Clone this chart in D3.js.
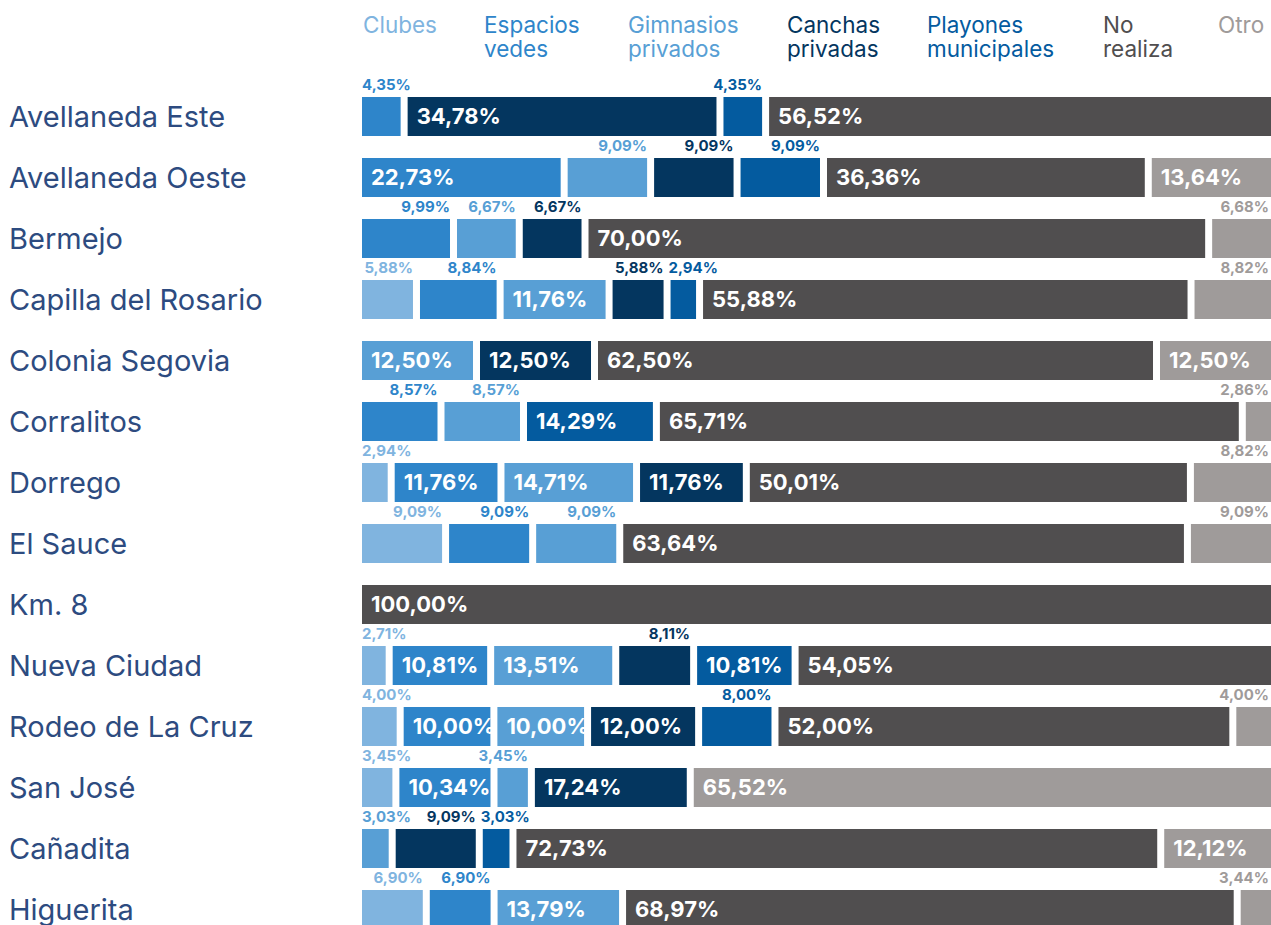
<!DOCTYPE html>
<html>
<head>
<meta charset="utf-8">
<script src="https://cdn.jsdelivr.net/npm/d3@7"></script>
<style>
  body { margin: 0; background: #fff; }
  svg { display: block; font-family: Inter, "Noto Sans", sans-serif; }
</style>
</head>
<body>
<svg id="chart" width="1271" height="925"></svg>
<script>
// ---------- DATA ----------
const places = ["Avellaneda Este", "Avellaneda Oeste", "Bermejo", "Capilla del Rosario",
  "Colonia Segovia", "Corralitos", "Dorrego", "El Sauce", "Km. 8", "Nueva Ciudad",
  "Rodeo de La Cruz", "San José", "Cañadita", "Higuerita"];

const seriesKeys = ["Clubes", "Espacios vedes", "Gimnasios privados", "Canchas privadas",
  "Playones municipales", "No realiza", "Otro"];
const legendLines = [["Clubes"], ["Espacios", "vedes"], ["Gimnasios", "privados"],
  ["Canchas", "privadas"], ["Playones", "municipales"], ["No", "realiza"], ["Otro"]];

const clubes     = [0, 0, 0, 5.88, 0, 0, 2.94, 9.09, 0, 2.71, 4.00, 3.45, 0, 6.90];
const espacios   = [4.35, 22.73, 9.99, 8.84, 0, 8.57, 11.76, 9.09, 0, 10.81, 10.00, 10.34, 0, 6.90];
const gimnasios  = [0, 9.09, 6.67, 11.76, 12.50, 8.57, 14.71, 9.09, 0, 13.51, 10.00, 3.45, 3.03, 13.79];
const canchas    = [34.78, 9.09, 6.67, 5.88, 12.50, 0, 11.76, 0, 0, 8.11, 12.00, 17.24, 9.09, 0];
const playones   = [4.35, 9.09, 0, 2.94, 0, 14.29, 0, 0, 0, 10.81, 8.00, 0, 3.03, 0];
const noRealiza  = [56.52, 36.36, 70.00, 55.88, 62.50, 65.71, 50.01, 63.64, 100, 54.05, 52.00, 0, 72.73, 68.97];
const otro       = [0, 13.64, 6.68, 8.82, 12.50, 2.86, 8.82, 9.09, 0, 0, 4.00, 65.52, 12.12, 3.44];

const seriesValues = [clubes, espacios, gimnasios, canchas, playones, noRealiza, otro];
const colors = ["#80b4df", "#2e85ca", "#589fd5", "#04365f", "#045b9f", "#504e4f", "#9f9b9a"];

// ---------- LAYOUT ----------
const svg = d3.select("#chart");
const left = 362, right = 1271, gap = 7;
const legendX = [363, 484, 628, 787, 927, 1103, 1218];

const y = d3.scaleBand().domain(places).range([97, 929]).paddingInner(22 / 61).paddingOuter(0);
const bw = y.bandwidth();

const table = places.map((p, i) => {
  const o = { place: p };
  seriesKeys.forEach((k, j) => o[k] = seriesValues[j][i]);
  return o;
});
const stacked = d3.stack().keys(seriesKeys)(table);
const fmt = v => d3.format(".2f")(v).replace(".", ",") + "%";

// Legend
seriesKeys.forEach((k, j) => {
  const t = svg.append("text")
    .attr("x", legendX[j]).attr("y", 33)
    .attr("fill", colors[j])
    .style("font-size", "22.5px").style("font-weight", 400);
  legendLines[j].forEach((line, li) => {
    t.append("tspan").attr("x", legendX[j]).attr("dy", li === 0 ? 0 : 24).text(line);
  });
});

// Row labels
svg.append("g").selectAll("text").data(places).join("text")
  .attr("x", 9)
  .attr("y", d => y(d) + bw / 2)
  .attr("dy", "0.36em")
  .attr("fill", "#2d4b80")
  .style("font-size", "29px")
  .text(d => d);

// Bars
places.forEach((p, i) => {
  const segs = [];
  stacked.forEach((s, j) => {
    const v = seriesValues[j][i];
    if (v > 0) segs.push({ j, v, x0: s[i][0], x1: s[i][1] });
  });
  const n = segs.length;
  const total = stacked[stacked.length - 1][i][1];
  const xs = d3.scaleLinear().domain([0, total]).range([left, right - (n - 1) * gap]);
  const g = svg.append("g");
  const top = y(p);
  let prevRight = -Infinity;
  segs.forEach((s, k) => {
    const x = xs(s.x0) + k * gap;
    const w = xs(s.x1) - xs(s.x0);
    g.append("rect").attr("x", x).attr("y", top).attr("width", w).attr("height", bw)
      .attr("fill", colors[s.j]);
    if (s.v >= 10) {
      g.append("text").attr("x", x + 9).attr("y", top + bw / 2).attr("dy", "0.36em")
        .attr("fill", "#fff").style("font-size", "22px").style("font-weight", 700)
        .text(fmt(s.v));
    } else {
      const t = g.append("text").attr("y", top - 7)
        .attr("fill", colors[s.j]).style("font-size", "15px").style("font-weight", 700)
        .text(fmt(s.v));
      const tw = t.node().getComputedTextLength();
      let lx = Math.min(x + w, right - 2) - tw;
      lx = Math.max(lx, left, prevRight + 5);
      t.attr("x", lx);
      prevRight = lx + tw;
    }
  });
});
</script>
</body>
</html>
